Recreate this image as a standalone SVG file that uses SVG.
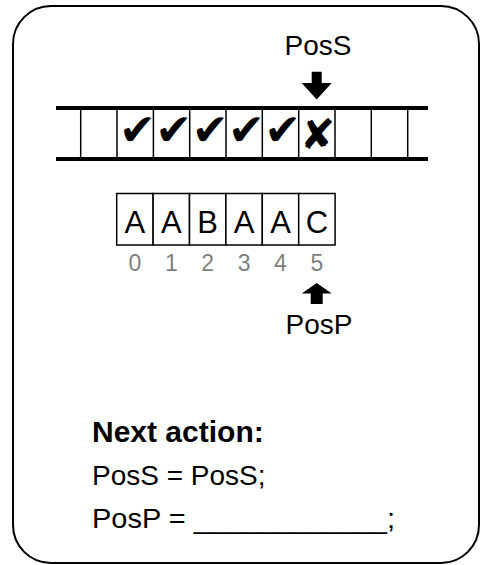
<svg xmlns="http://www.w3.org/2000/svg" width="480" height="565" viewBox="0 0 480 565">
<style>
.t{font-family:"Liberation Sans",Arial,sans-serif;fill:#000}
.thin{stroke:#000;stroke-width:1.5;fill:none}
.thick{stroke:#000;stroke-width:4;fill:none}
.cell{fill:#fff;stroke:#000;stroke-width:1.5}
.sym{font-family:"DejaVu Sans",sans-serif;fill:#000;text-anchor:middle}
.dig{font-family:"Liberation Sans",Arial,sans-serif;fill:#7f7f7f;font-size:23px;text-anchor:middle}
</style>
<rect id="frame" x="13" y="6" width="466" height="557" rx="38" ry="38" fill="#fff" stroke="#000" stroke-width="2"/>
<g id="tape">
<line class="thick" x1="56" y1="108" x2="428" y2="108"/>
<line class="thick" x1="56" y1="159" x2="428" y2="159"/>
<g class="thin">
<line x1="80.7" y1="108" x2="80.7" y2="159"/>
<line x1="117" y1="108" x2="117" y2="159"/>
<line x1="153.4" y1="108" x2="153.4" y2="159"/>
<line x1="189.7" y1="108" x2="189.7" y2="159"/>
<line x1="226" y1="108" x2="226" y2="159"/>
<line x1="262.3" y1="108" x2="262.3" y2="159"/>
<line x1="298.7" y1="108" x2="298.7" y2="159"/>
<line x1="335" y1="108" x2="335" y2="159"/>
<line x1="371.3" y1="108" x2="371.3" y2="159"/>
<line x1="407.7" y1="108" x2="407.7" y2="159"/>
</g>
<g font-size="44">
<text class="sym" x="137.5" y="145">✔</text>
<text class="sym" x="173.8" y="145">✔</text>
<text class="sym" x="210.1" y="145">✔</text>
<text class="sym" x="246.4" y="145">✔</text>
<text class="sym" x="282.7" y="145">✔</text>
<text class="sym" x="317.5" y="149" font-size="42">✘</text>
</g>
</g>
<g id="poss">
<text class="t" x="318" y="55" font-size="28" text-anchor="middle">PosS</text>
<polygon points="311.7,71.7 321.7,71.7 321.7,83 331.7,83 316.7,99.5 301.7,83 311.7,83" fill="#000"/>
</g>
<g id="pattern">
<rect class="cell" x="116.7" y="193.5" width="36.4" height="51.5"/>
<rect class="cell" x="153.1" y="193.5" width="36.4" height="51.5"/>
<rect class="cell" x="189.5" y="193.5" width="36.4" height="51.5"/>
<rect class="cell" x="225.9" y="193.5" width="36.4" height="51.5"/>
<rect class="cell" x="262.3" y="193.5" width="36.4" height="51.5"/>
<rect class="cell" x="298.7" y="193.5" width="36.4" height="51.5"/>
<g class="t" font-size="31" text-anchor="middle">
<text x="134.9" y="233">A</text>
<text x="171.3" y="233">A</text>
<text x="207.7" y="233">B</text>
<text x="244.1" y="233">A</text>
<text x="280.5" y="233">A</text>
<text x="316.9" y="233">C</text>
</g>
<text class="dig" x="134.9" y="271">0</text>
<text class="dig" x="171.3" y="271">1</text>
<text class="dig" x="207.7" y="271">2</text>
<text class="dig" x="244.1" y="271">3</text>
<text class="dig" x="280.5" y="271">4</text>
<text class="dig" x="316.9" y="271">5</text>
</g>
<g id="posp">
<polygon points="316.7,283 331.7,293.5 322.7,293.5 322.7,304 310.7,304 310.7,293.5 301.7,293.5" fill="#000"/>
<text class="t" x="319" y="334" font-size="28" text-anchor="middle">PosP</text>
</g>
<g id="action">
<text class="t" x="92" y="442" font-size="30" font-weight="bold">Next action:</text>
<text class="t" x="92" y="485" font-size="28">PosS = PosS;</text>
<text class="t" x="92" y="528" font-size="28" textLength="303" lengthAdjust="spacingAndGlyphs">PosP = ____________;</text>
</g>
</svg>
